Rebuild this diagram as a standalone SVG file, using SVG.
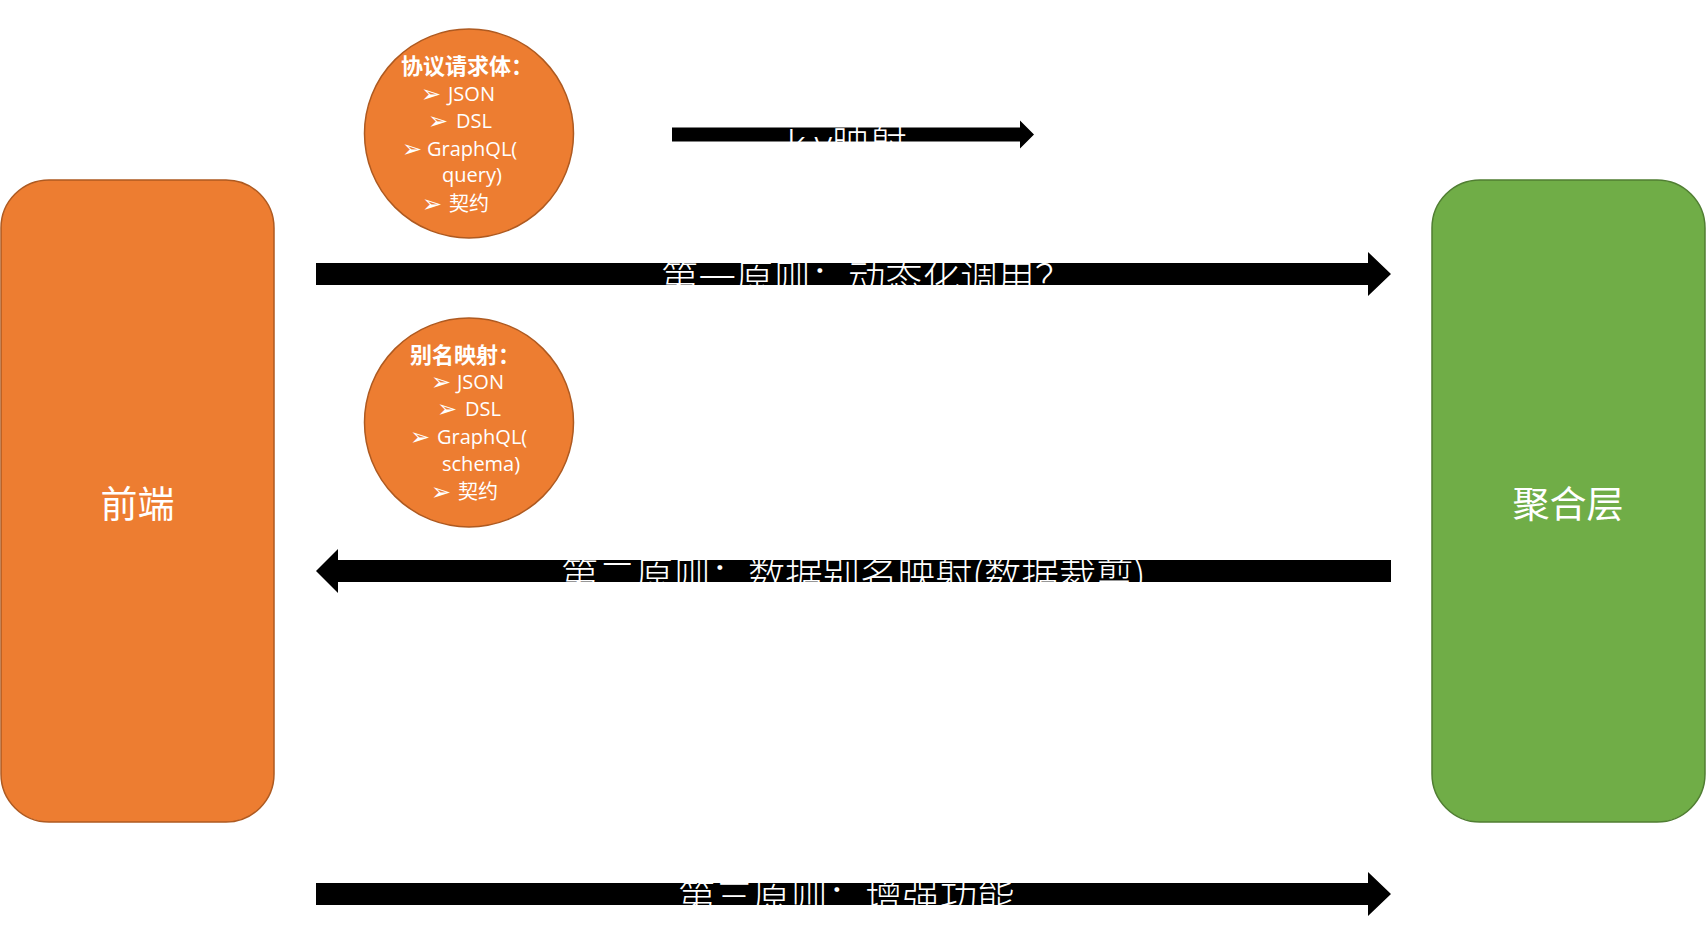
<svg xmlns="http://www.w3.org/2000/svg" width="1706" height="940" viewBox="0 0 1706 940">
<style>
.orange{fill:#ED7D31;stroke:#AE5A21;stroke-width:1.5}
.green{fill:#70AD47;stroke:#507E32;stroke-width:1.5}
.big{font-family:"Noto Sans CJK SC","Noto Sans",sans-serif;font-size:37px;fill:#ffffff}
.lbl{font-family:"Noto Sans CJK SC","Noto Sans",sans-serif;font-size:37.4px;fill:#ffffff;font-weight:300}
.lat{font-family:"Noto Sans","Noto Sans CJK SC",sans-serif}
.hd{font-family:"Noto Sans CJK SC",sans-serif;font-size:22px;font-weight:bold;fill:#ffffff}
.it{font-family:"Open Sans","Noto Sans CJK SC",sans-serif;font-size:20px;fill:#ffffff}
.bu{font-family:"DejaVu Sans","Noto Sans CJK SC",sans-serif;font-size:24px;fill:#ffffff}
.arr{fill:#000000}
</style>
<rect width="1706" height="940" fill="#ffffff"/>
<g id="frontend">
<rect class="orange" x="1" y="180" width="273" height="642" rx="48" ry="48"/>
<text class="big" x="137.5" y="518" text-anchor="middle">前端</text>
</g>
<g id="aggregation">
<rect class="green" x="1432" y="180" width="273" height="642" rx="48" ry="48"/>
<text class="big" x="1568" y="518" text-anchor="middle">聚合层</text>
</g>
<g id="protocol-circle">
<circle class="orange" cx="469" cy="133.5" r="104.5"/>
<text class="hd" x="401" y="74">协议请求体：</text>
<text class="bu" x="421" y="102">➢</text><text class="it" x="448" y="101">JSON</text>
<text class="bu" x="428" y="129">➢</text><text class="it" x="456" y="128">DSL</text>
<text class="bu" x="402" y="157">➢</text><text class="it" x="427" y="156">GraphQL(</text>
<text class="it" x="442" y="182">query)</text>
<text class="bu" x="422" y="212">➢</text><text class="it" x="449" y="211">契约</text>
</g>
<g id="alias-circle">
<circle class="orange" cx="469" cy="422.5" r="104.5"/>
<text class="hd" x="410" y="363">别名映射：</text>
<text class="bu" x="431" y="390">➢</text><text class="it" x="457" y="389">JSON</text>
<text class="bu" x="437" y="417">➢</text><text class="it" x="465" y="416">DSL</text>
<text class="bu" x="410" y="445">➢</text><text class="it" x="437" y="444">GraphQL(</text>
<text class="it" x="442" y="471">schema)</text>
<text class="bu" x="431" y="500">➢</text><text class="it" x="458" y="499">契约</text>
</g>
<g id="connectors">
<polygon class="arr" points="672,127.5 1020,127.5 1020,120.5 1034,134.5 1020,148.5 1020,141.5 672,141.5"/>
<polygon class="arr" points="316,263 1368,263 1368,252 1391,274 1368,296 1368,285 316,285"/>
<polygon class="arr" points="316,571 338,549 338,560 1391,560 1391,582 338,582 338,593"/>
<polygon class="arr" points="316,883 1368,883 1368,872 1391,894 1368,916 1368,905 316,905"/>
<text class="lbl" x="787" y="157"><tspan class="lat">k·v</tspan>映射</text>
<text class="lbl" x="661" y="292">第一原则：动态化调用？</text>
<text class="lbl" x="561" y="589">第二原则：数据别名映射(数据裁剪)</text>
<text class="lbl" x="678" y="911">第三原则：增强功能</text>
</g>
</svg>
